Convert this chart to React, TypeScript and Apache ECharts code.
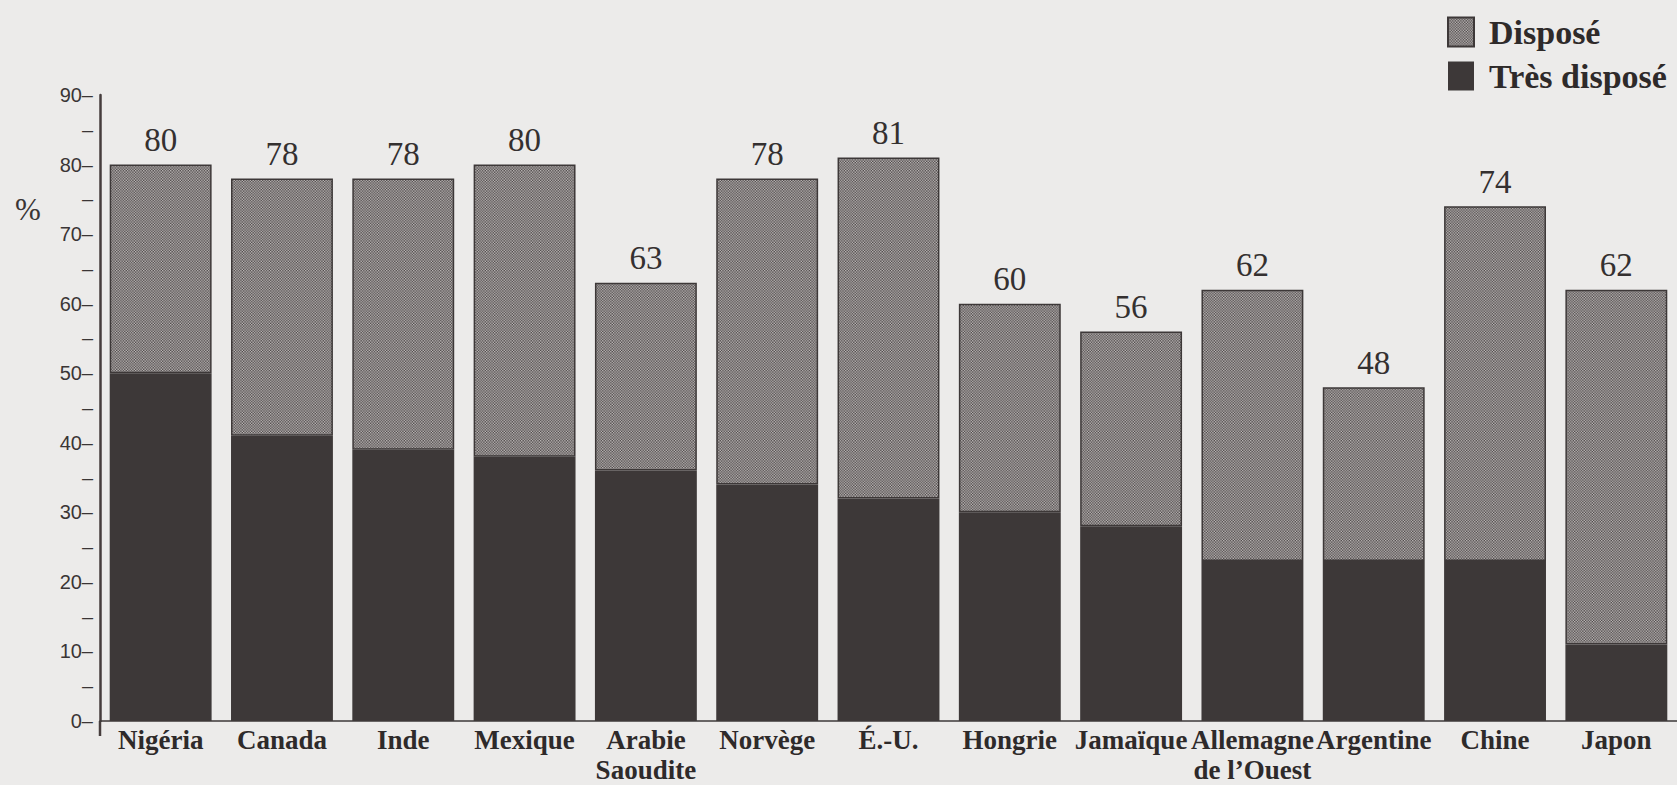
import React, { useEffect, useRef } from "react";
import * as echarts from "echarts";

// Survey: share of respondents willing to act, by country (%)
const categories = [
  "Nigéria",
  "Canada",
  "Inde",
  "Mexique",
  "Arabie\nSaoudite",
  "Norvège",
  "É.-U.",
  "Hongrie",
  "Jamaïque",
  "Allemagne\nde l\u2019Ouest",
  "Argentine",
  "Chine",
  "Japon",
];
const totals = [80, 78, 78, 80, 63, 78, 81, 60, 56, 62, 48, 74, 62];
const tresDispose = [50, 41, 39, 38, 36, 34, 32, 30, 28, 23, 23, 23, 11];
const dispose = [30, 37, 39, 42, 27, 44, 49, 30, 28, 39, 25, 51, 51];

const SERIES_DISPOSE = "Disposé";
const SERIES_TRES = "Très disposé";

const INK = "#3d3838";
const PAPER = "#ecebea";

// Fine checkerboard stipple used for the "Disposé" segments
function makeStipple(): HTMLCanvasElement {
  const c = document.createElement("canvas");
  c.width = 2;
  c.height = 2;
  const ctx = c.getContext("2d")!;
  ctx.fillStyle = "#474242";
  ctx.fillRect(0, 0, 2, 2);
  ctx.fillStyle = "#c2bebd";
  ctx.fillRect(0, 0, 1, 1);
  ctx.fillRect(1, 1, 1, 1);
  return c;
}

export default function App() {
  const ref = useRef<HTMLDivElement>(null);

  useEffect(() => {
    document.body.style.margin = "0";
    if (!ref.current) return;
    const chart = echarts.init(ref.current, undefined, { renderer: "svg" });
    const stipple = {
      image: makeStipple(),
      repeat: "repeat" as const,
      scaleX: 1.35,
      scaleY: 1.35,
    };

    chart.setOption({
      animation: false,
      backgroundColor: PAPER,
      title: {
        text: "%",
        left: 10,
        top: 189,
        textStyle: {
          fontFamily: "Liberation Serif",
          fontSize: 31,
          fontWeight: "normal",
          color: "#3a3535",
        },
      },
      legend: {
        left: 1442,
        top: 10,
        orient: "vertical",
        itemWidth: 26,
        itemHeight: 29,
        itemGap: 10,
        icon: "rect",
        data: [SERIES_DISPOSE, SERIES_TRES],
        textStyle: {
          fontFamily: "Liberation Serif",
          fontWeight: "bold",
          fontSize: 34,
          color: "#2e2a2a",
          padding: [0, 0, 0, 10],
        },
      },
      grid: { left: 100, right: 0, top: 95, bottom: 63, containLabel: false },
      xAxis: {
        type: "category",
        data: categories,
        axisLine: { show: true, lineStyle: { color: INK, width: 1.5 } },
        axisTick: { show: false },
        axisLabel: {
          interval: 0,
          margin: 4,
          fontFamily: "Liberation Serif",
          fontWeight: "bold",
          fontSize: 27,
          lineHeight: 30,
          color: "#2e2a2a",
        },
      },
      yAxis: {
        type: "value",
        min: 0,
        max: 90,
        interval: 5,
        splitLine: { show: false },
        axisTick: { show: false },
        axisLine: { show: true, lineStyle: { color: "#463d3d", width: 2.5 } },
        axisLabel: {
          margin: 7,
          fontFamily: "Liberation Sans",
          fontSize: 20,
          color: "#3a3535",
          formatter: (v: number) => (v % 10 === 0 ? `${v}\u2013` : "\u2013"),
        },
      },
      series: [
        {
          name: SERIES_TRES,
          type: "bar",
          stack: "total",
          barWidth: "84%",
          data: tresDispose,
          itemStyle: { color: INK },
        },
        {
          name: SERIES_DISPOSE,
          type: "bar",
          stack: "total",
          barWidth: "84%",
          data: dispose,
          itemStyle: { color: stipple, borderColor: INK, borderWidth: 1.5 },
          label: {
            show: true,
            position: "top",
            distance: 8,
            fontFamily: "Liberation Serif",
            fontSize: 33,
            color: "#343030",
            formatter: (p: any) => String(totals[p.dataIndex]),
          },
        },
      ],
    });

    // The vertical axis runs a little below the baseline
    const base = chart.convertToPixel({ yAxisIndex: 0 }, 0) as number;
    chart.setOption({
      graphic: [
        {
          type: "line",
          shape: { x1: 100, y1: base, x2: 100, y2: base + 15 },
          style: { stroke: "#463d3d", lineWidth: 2.5 },
        },
      ],
    });

    return () => chart.dispose();
  }, []);

  return (
    <div
      ref={ref}
      style={{ position: "fixed", left: 0, top: 0, width: 1677, height: 785 }}
    />
  );
}
